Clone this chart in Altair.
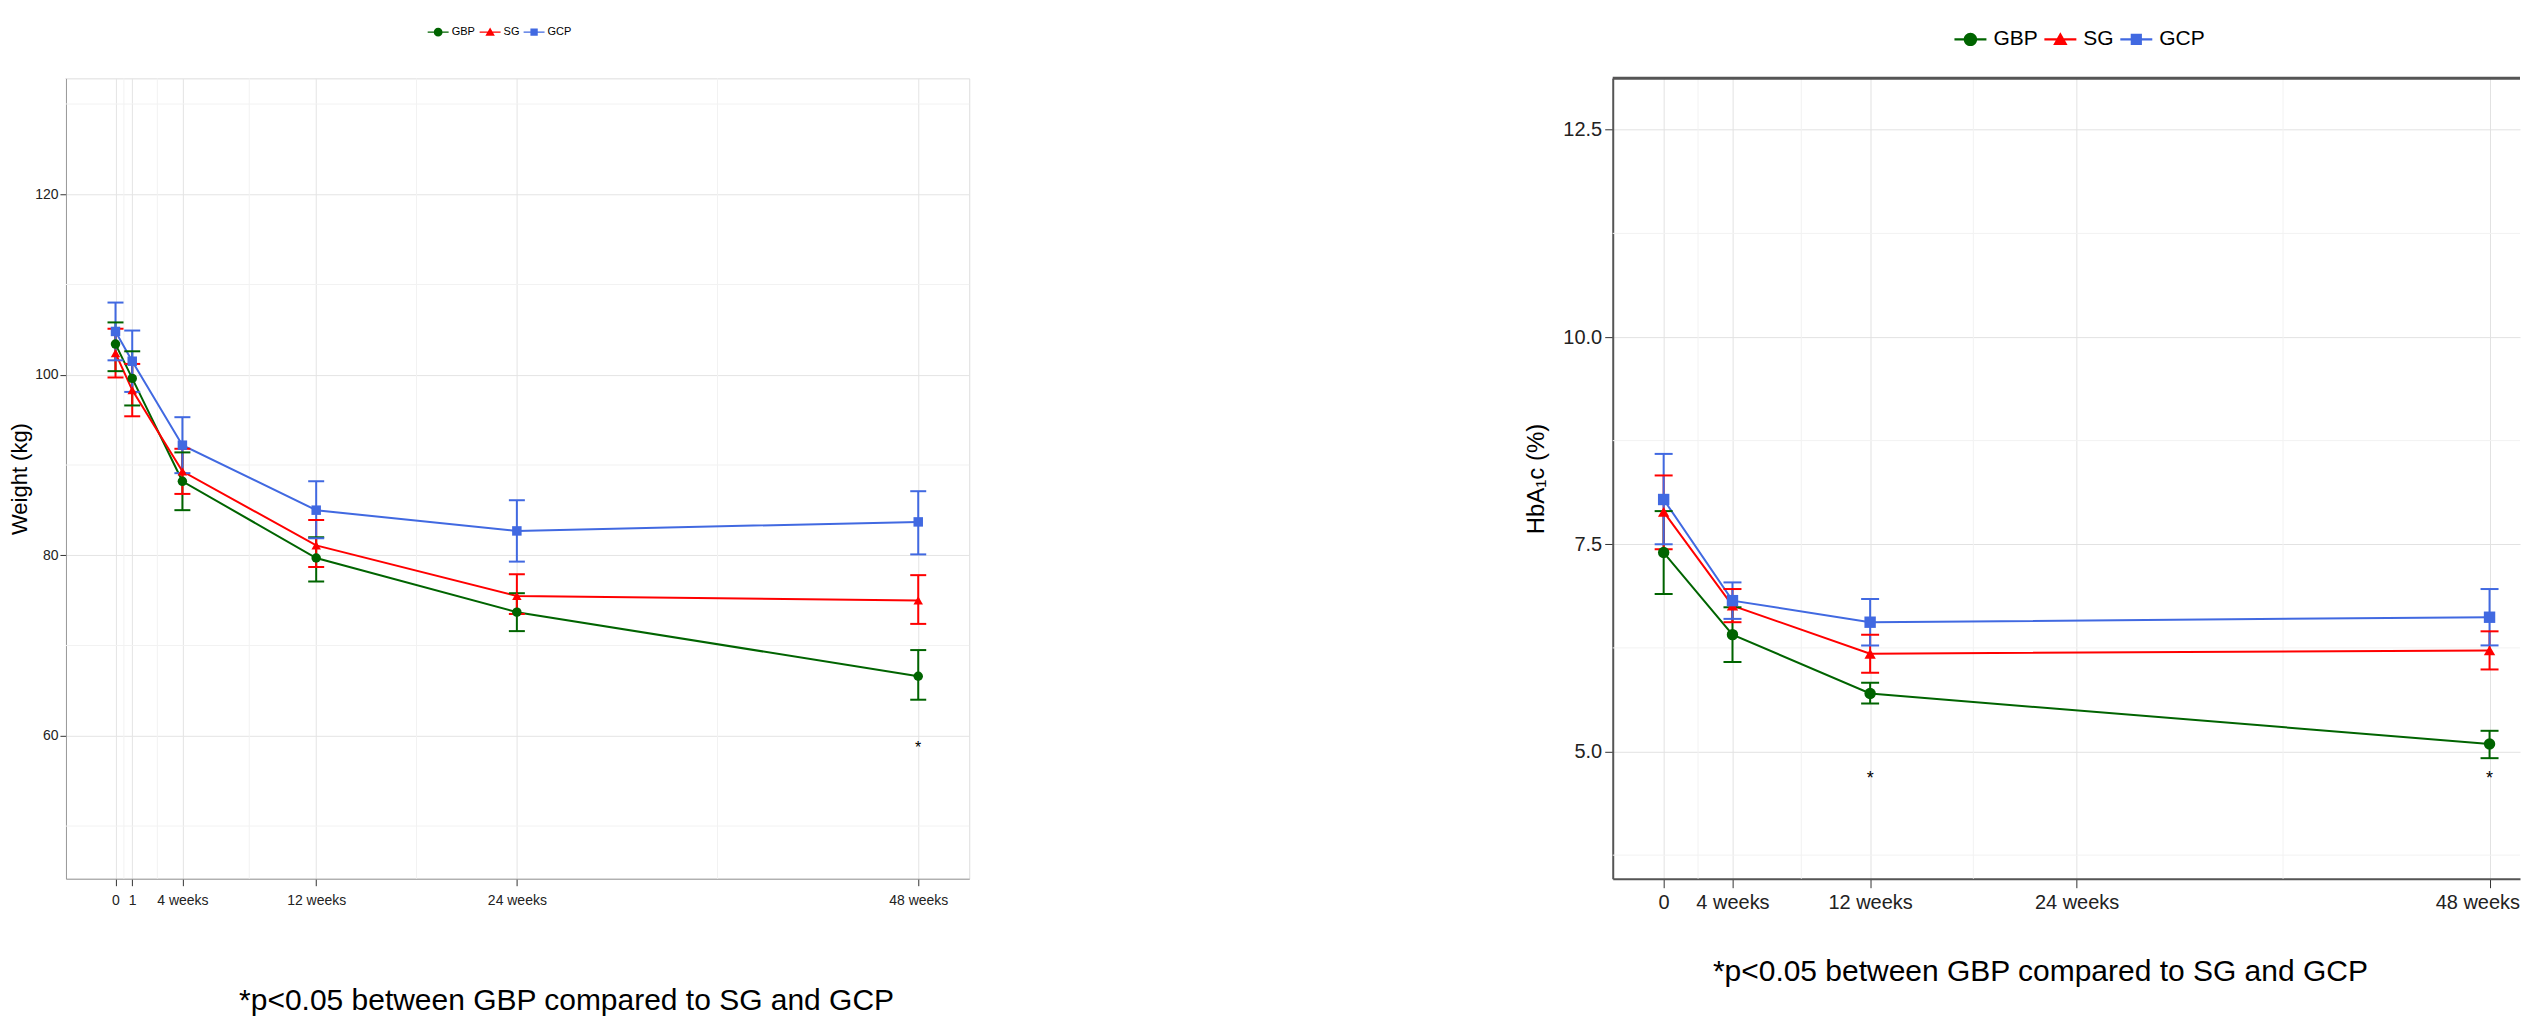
import altair as alt
import pandas as pd

FONT = "Liberation Sans"
groups = ["GBP", "SG", "GCP"]
colors = ["#006400", "#FF0000", "#4169E1"]
point_shapes = ["circle", "triangle-up", "square"]
footnote = "*p<0.05 between GBP compared to SG and GCP"

# legend keys: line + marker (custom symbol paths in -1..1 box)
legend_paths = [
    "M-1,-0.07L1,-0.07L1,0.07L-1,0.07Z M0.42,0A0.42,0.42 0 1,1 -0.42,0A0.42,0.42 0 1,1 0.42,0Z",
    "M-1,-0.07L1,-0.07L1,0.07L-1,0.07Z M0,-0.45L0.45,0.35L-0.45,0.35Z",
    "M-1,-0.07L1,-0.07L1,0.07L-1,0.07Z M-0.35,-0.35L0.35,-0.35L0.35,0.35L-0.35,0.35Z",
]

# ---------------- Weight panel ----------------
w_weeks = [0, 1, 4, 12, 24, 48]
w_gbp = [103.4, 99.6, 88.2, 79.7, 73.7, 66.6]
w_gbp_lo = [100.4, 96.6, 85.0, 77.1, 71.6, 64.0]
w_gbp_hi = [105.8, 102.6, 91.4, 82.0, 75.8, 69.5]
w_sg = [102.4, 98.3, 89.3, 81.1, 75.5, 75.0]
w_sg_lo = [99.7, 95.4, 86.8, 78.7, 73.5, 72.4]
w_sg_hi = [105.1, 101.2, 91.8, 83.9, 77.9, 77.8]
w_gcp = [104.8, 101.5, 92.2, 85.0, 82.7, 83.7]
w_gcp_lo = [101.6, 98.1, 89.1, 81.9, 79.3, 80.1]
w_gcp_hi = [108.0, 104.9, 95.3, 88.2, 86.1, 87.1]
w_xticks = [0, 1, 4, 12, 24, 48]
w_xlabels = ["0", "1", "4 weeks", "12 weeks", "24 weeks", "48 weeks"]
w_xminor = [0.5, 2.5, 8, 18, 36]
w_yticks = [60, 80, 100, 120]
w_yminor = [50, 70, 90, 110, 130]
w_star_x = [48]
w_star_y = [58.6]

# ---------------- HbA1c panel ----------------
h_weeks = [0, 4, 12, 48]
h_gbp = [7.40, 6.41, 5.70, 5.09]
h_gbp_lo = [6.90, 6.08, 5.58, 4.92]
h_gbp_hi = [7.90, 6.74, 5.83, 5.25]
h_sg = [7.89, 6.76, 6.18, 6.22]
h_sg_lo = [7.44, 6.56, 5.95, 5.99]
h_sg_hi = [8.33, 6.96, 6.41, 6.45]
h_gcp = [8.04, 6.82, 6.56, 6.62]
h_gcp_lo = [7.50, 6.60, 6.28, 6.28]
h_gcp_hi = [8.59, 7.04, 6.84, 6.96]
h_xticks = [0, 4, 12, 24, 48]
h_xlabels = ["0", "4 weeks", "12 weeks", "24 weeks", "48 weeks"]
h_xminor = [2, 8, 18, 36]
h_yticks = [5.0, 7.5, 10.0, 12.5]
h_yminor = [3.75, 6.25, 8.75, 11.25]
h_star_x = [12, 48]
h_star_y = [4.67, 4.67]


def long_df(weeks, means, los, his):
    rows = []
    for g, m, lo, hi in zip(groups, means, los, his):
        for w, a, b, c in zip(weeks, m, lo, hi):
            rows.append({"week": w, "group": g, "mean": a, "lo": b, "hi": c})
    return pd.DataFrame(rows)


def panel(df, xdom, ydom, width, height, xticks, xlabels, xminor, yticks, yminor,
          yfmt, ytitle, star_x, star_y, st):
    xs = alt.Scale(domain=xdom, nice=False, zero=False)
    ys = alt.Scale(domain=ydom, nice=False, zero=False)
    label_expr = ("[" + ",".join("'%s'" % l for l in xlabels) + "][indexof(["
                  + ",".join(str(v) for v in xticks) + "], datum.value)]")
    xaxis = alt.Axis(values=xticks, labelExpr=label_expr, grid=True, gridColor=st["grid"],
                     labelFontSize=st["xlab"], tickSize=st["xtick"], labelPadding=st["xpad"],
                     domainColor=st["dom"], domainWidth=st["domw"], tickColor="#333333",
                     labelColor="#222222", labelFont=FONT, title=None,
                     labelFlush=st["flush"], labelFlushOffset=st["flushoff"])
    yaxis = alt.Axis(values=yticks, format=yfmt, grid=True, gridColor=st["grid"],
                     labelFontSize=st["ylab"], tickSize=st["ytick"], labelPadding=st["ypad"],
                     domainColor=st["dom"], domainWidth=st["domw"], tickColor="#333333",
                     labelColor="#222222", labelFont=FONT, title=ytitle,
                     titleFontSize=st["ytitle"], titleFontWeight="normal", titleFont=FONT,
                     titleColor="black", titlePadding=st["ytitlepad"])
    X = lambda f: alt.X(f, scale=xs, axis=xaxis)
    Y = lambda f: alt.Y(f, scale=ys, axis=yaxis)
    stroke = alt.Stroke("group:N", scale=alt.Scale(domain=groups, range=colors), legend=None)
    fill = alt.Fill("group:N", scale=alt.Scale(domain=groups, range=colors), legend=None)
    base = alt.Chart(df)

    ygrid = alt.Chart(pd.DataFrame({"v": yminor})).mark_rule(
        color=st["minor"], strokeWidth=1).encode(y=Y("v:Q"))
    xgrid = alt.Chart(pd.DataFrame({"v": xminor})).mark_rule(
        color=st["minor"], strokeWidth=1).encode(x=X("v:Q"))
    layers = [ygrid, xgrid]
    if st["topline"]:
        layers.append(alt.Chart(pd.DataFrame({"v": [ydom[1]]})).mark_rule(
            color=st["dom"], strokeWidth=st["domw"] + 1).encode(y=Y("v:Q")))

    lines = base.mark_line(strokeWidth=st["lw"]).encode(
        x=X("week:Q"), y=Y("mean:Q"), stroke=stroke)
    bars = base.mark_rule(strokeWidth=2).encode(
        x=X("week:Q"), y=Y("lo:Q"), y2="hi:Q", stroke=stroke)
    caps = base.transform_fold(["lo", "hi"], as_=["end", "val"]).mark_tick(
        orient="horizontal", size=st["cap"], thickness=2, opacity=1).encode(
        x=X("week:Q"), y=Y("val:Q"), fill=fill)
    layers += [lines, bars, caps]
    for g, shp in zip(groups, point_shapes):
        layers.append(base.transform_filter(alt.datum.group == g).mark_point(
            shape=shp, filled=True, size=st["psize"], opacity=1, strokeWidth=0).encode(
            x=X("week:Q"), y=Y("mean:Q"), fill=fill))
    stars = alt.Chart(pd.DataFrame({"week": star_x, "y": star_y})).mark_text(
        text="*", fontSize=st["star"], font=FONT, color="black").encode(
        x=X("week:Q"), y=Y("y:Q"))
    layers.append(stars)

    leg = alt.Legend(orient="none", legendX=st["legx"], legendY=st["legy"],
                     direction="horizontal", title=None, symbolSize=st["symsize"],
                     labelFontSize=st["leglab"], labelOffset=st["laboff"],
                     columnPadding=st["colpad"], padding=0, symbolStrokeWidth=0,
                     symbolOpacity=1, labelFont=FONT, labelColor="black")
    legend_layer = alt.Chart(pd.DataFrame({"group": groups})).mark_point(
        filled=True, opacity=1, size=0.5).encode(
        x=alt.value(0), y=alt.value(0),
        color=alt.Color("group:N", scale=alt.Scale(domain=groups, range=colors), legend=leg),
        shape=alt.Shape("group:N", scale=alt.Scale(domain=groups, range=legend_paths),
                        legend=leg))
    layers.append(legend_layer)

    return alt.layer(*layers).properties(
        width=width, height=height,
        view=alt.ViewBackground(stroke=st["frame"]),
        title=alt.TitleParams(footnote, orient="bottom", anchor="middle", frame="group",
                              fontSize=30, fontWeight="normal", font=FONT, color="black",
                              offset=st["foff"], dx=st["fdx"]))


left_style = dict(grid="#e4e4e4", minor="#f2f2f2", xlab=14, xtick=7, xpad=8, dom="#999999",
                  domw=1, ylab=14, ytick=6, ypad=2, ytitle=22, ytitlepad=3, topline=False,
                  lw=2, cap=16, psize=90, star=16, legx=362, legy=-57, symsize=440,
                  leglab=11, laboff=3, colpad=4, frame="#dddddd", foff=78, fdx=49,
                  flush=False, flushoff=0)
right_style = dict(grid="#e2e2e2", minor="#f2f2f2", xlab=20, xtick=9, xpad=5, dom="#555555",
                   domw=2, ylab=20, ytick=8, ypad=3, ytitle=24, ytitlepad=14, topline=True,
                   lw=2, cap=18, psize=130, star=18, legx=342, legy=-55, symsize=1024,
                   leglab=21, laboff=7, colpad=6, frame="transparent", foff=44, fdx=-26,
                   flush=40, flushoff=30)

left = panel(long_df(w_weeks, [w_gbp, w_sg, w_gcp], [w_gbp_lo, w_sg_lo, w_gcp_lo],
                     [w_gbp_hi, w_sg_hi, w_gcp_hi]),
             [-2.963, 51.05], [44.17, 132.84], 904, 801, w_xticks, w_xlabels, w_xminor,
             w_yticks, w_yminor, "d", "Weight (kg)", w_star_x, w_star_y, left_style)
right = panel(long_df(h_weeks, [h_gbp, h_sg, h_gcp], [h_gbp_lo, h_sg_lo, h_gcp_lo],
                      [h_gbp_hi, h_sg_hi, h_gcp_hi]),
              [-2.96, 49.77], [3.466, 13.12], 908, 801, h_xticks, h_xlabels, h_xminor,
              h_yticks, h_yminor, ".1f", "HbA\u2081c (%)", h_star_x, h_star_y, right_style)

chart = alt.hconcat(left, right, spacing=644, bounds="flush").resolve_scale(
    color="independent", shape="independent").resolve_legend(
    color="independent", shape="independent").properties(
    padding={"left": 0, "top": 12, "right": 0, "bottom": 0}).configure(
    font=FONT)

chart.save("out.html", embed_options={"renderer": "svg", "actions": False})
